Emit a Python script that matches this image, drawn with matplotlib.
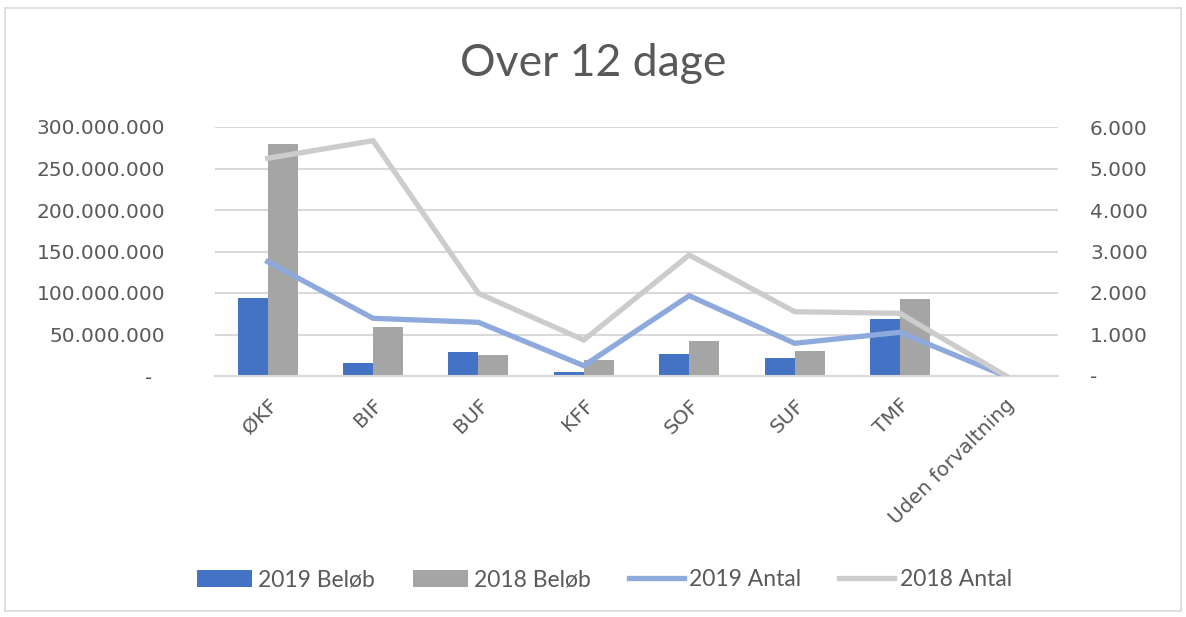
import matplotlib.pyplot as plt
import numpy as np
from matplotlib.patches import Rectangle
from matplotlib.ticker import FuncFormatter

plt.rcParams['font.family'] = ['DejaVu Sans']

# data
forvaltninger = ['ØKF', 'BIF', 'BUF', 'KFF', 'SOF', 'SUF', 'TMF', 'Uden forvaltning']
belob_2019 = [94.3e6, 15.3e6, 28.5e6, 5.2e6, 26.5e6, 21.7e6, 69.0e6, 0]
belob_2018 = [279.5e6, 59.4e6, 25.0e6, 19.0e6, 41.8e6, 30.0e6, 92.4e6, 0]
antal_2019 = [2754, 1390, 1294, 248, 1935, 788, 1053, 0]
antal_2018 = [5246, 5670, 1993, 867, 2916, 1550, 1510, 10]

txt = '#595959'
grid = '#D9D9D9'

def dk(v):
    return f'{v:,.0f}'.replace(',', '.')

fig = plt.figure(figsize=(11.86, 6.17), dpi=100)
fig.patches.append(Rectangle((5 / 1186, 6 / 617), 1176 / 1186, 603 / 617,
                             transform=fig.transFigure, fill=False,
                             edgecolor='#D9D9D9', linewidth=1.2))
ax = fig.add_axes([215 / 1186, 1 - 376 / 617, 843 / 1186, 249 / 617])
ax2 = ax.twinx()

x = np.arange(len(forvaltninger))
w = 0.285
ax.bar(x - w / 2, belob_2019, w, color='#4472C4', label='2019 Beløb', zorder=2)
ax.bar(x + w / 2, belob_2018, w, color='#A5A5A5', label='2018 Beløb', zorder=2)
ax2.plot(x, antal_2019, color='#8EA9DB', lw=3.8, label='2019 Antal', solid_joinstyle='miter')
ax2.plot(x, antal_2018, color='#CCCCCC', lw=3.8, label='2018 Antal', solid_joinstyle='miter')

ax.set_xlim(-0.5, len(forvaltninger) - 0.5)
ax.set_ylim(0, 300e6)
ax2.set_ylim(0, 6000)
ax.set_yticks(np.arange(0, 300e6 + 1, 50e6))
ax2.set_yticks(np.arange(0, 6001, 1000))
ax.yaxis.set_major_formatter(FuncFormatter(lambda v, p: '-  ' if v == 0 else dk(v)))
ax2.yaxis.set_major_formatter(FuncFormatter(lambda v, p: '-' if v == 0 else dk(v)))

ax.set_zorder(ax2.get_zorder() - 1)
ax2.patch.set_visible(False)
ax.yaxis.grid(True, color=grid, lw=1.5, zorder=0)
ax.set_axisbelow(True)
for a in (ax, ax2):
    for s in a.spines.values():
        s.set_visible(False)
    a.tick_params(length=0, labelsize=14.5, labelcolor=txt)
ax.spines['bottom'].set_visible(True)
ax.spines['bottom'].set_color(grid)
ax.spines['bottom'].set_linewidth(1.5)
ax.tick_params(axis='y', pad=36)
ax2.tick_params(axis='y', pad=23)

ax.set_xticks(x)
ax.set_xticklabels(forvaltninger, rotation=45, ha='right', rotation_mode='anchor')
ax.tick_params(axis='x', pad=14)

fig.text(0.5, 1 - 64 / 617, 'Over 12 dage', ha='center', va='center',
         fontsize=32, color=txt, family=['Lato', 'DejaVu Sans'])

h1, l1 = ax.get_legend_handles_labels()
h2, l2 = ax2.get_legend_handles_labels()
fig.legend(h1 + h2, l1 + l2, loc='center', bbox_to_anchor=(0.51, 1 - 580 / 617),
           ncol=4, frameon=False, labelcolor=txt,
           prop={'family': ['Lato', 'DejaVu Sans'], 'size': 16.5},
           handlelength=2.4, handletextpad=0.26, columnspacing=1.65)

fig.savefig('out.png', dpi=100)
